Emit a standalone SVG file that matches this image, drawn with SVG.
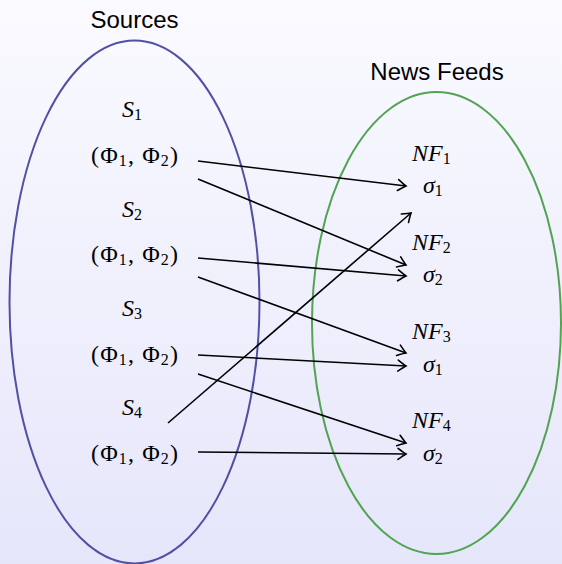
<svg xmlns="http://www.w3.org/2000/svg" width="562" height="564" viewBox="0 0 562 564">
<defs>
<linearGradient id="bg" x1="0" y1="0" x2="0" y2="1">
<stop offset="0" stop-color="#fafaff"/>
<stop offset="1" stop-color="#e6e6fb"/>
</linearGradient>
<marker id="arr" markerUnits="userSpaceOnUse" markerWidth="20" markerHeight="20" viewBox="-10 -10 20 20" refX="0" refY="0" orient="auto">
<path d="M -8 -5.5 Q -2.5 -1.5 0 0 Q -2.5 1.5 -8 5.5" fill="none" stroke="#000" stroke-width="1.6" stroke-linecap="round"/>
</marker>
<style>
.lbl{font-family:'Liberation Sans',Arial,sans-serif;font-size:24px;fill:#000}
.m{font-family:'Liberation Serif','Times New Roman',serif;font-size:24px;fill:#000}
.it{font-style:italic}
.sub{font-size:16px;font-style:normal}
.conn line{stroke:#000;stroke-width:1.6;fill:none;marker-end:url(#arr)}
</style>
</defs>
<rect width="562" height="564" fill="url(#bg)"/>
<g id="sources">
<ellipse cx="134.5" cy="302" rx="125" ry="261.5" fill="none" stroke="#5050a6" stroke-width="2"/>
<text class="lbl" x="134.5" y="28" text-anchor="middle">Sources</text>
</g>
<g id="newsfeeds">
<ellipse cx="436.5" cy="323" rx="124.5" ry="231" fill="none" stroke="#52a352" stroke-width="2"/>
<text class="lbl" x="437" y="80" text-anchor="middle">News Feeds</text>
</g>
<g id="s1">
<text class="m" x="122" y="117"><tspan class="it">S</tspan><tspan class="sub" dy="3">1</tspan></text>
<text class="m" x="91" y="163" textLength="87" lengthAdjust="spacing">(Φ<tspan class="sub" dy="3">1</tspan><tspan dy="-3">, Φ</tspan><tspan class="sub" dy="3">2</tspan><tspan dy="-3">)</tspan></text>
</g>
<g id="s2">
<text class="m" x="122" y="217"><tspan class="it">S</tspan><tspan class="sub" dy="3">2</tspan></text>
<text class="m" x="91" y="262" textLength="87" lengthAdjust="spacing">(Φ<tspan class="sub" dy="3">1</tspan><tspan dy="-3">, Φ</tspan><tspan class="sub" dy="3">2</tspan><tspan dy="-3">)</tspan></text>
</g>
<g id="s3">
<text class="m" x="122" y="316"><tspan class="it">S</tspan><tspan class="sub" dy="3">3</tspan></text>
<text class="m" x="91" y="362" textLength="87" lengthAdjust="spacing">(Φ<tspan class="sub" dy="3">1</tspan><tspan dy="-3">, Φ</tspan><tspan class="sub" dy="3">2</tspan><tspan dy="-3">)</tspan></text>
</g>
<g id="s4">
<text class="m" x="122" y="415"><tspan class="it">S</tspan><tspan class="sub" dy="3">4</tspan></text>
<text class="m" x="91" y="461" textLength="87" lengthAdjust="spacing">(Φ<tspan class="sub" dy="3">1</tspan><tspan dy="-3">, Φ</tspan><tspan class="sub" dy="3">2</tspan><tspan dy="-3">)</tspan></text>
</g>
<g id="nf1">
<text class="m" x="412" y="161"><tspan class="it">NF</tspan><tspan class="sub" dy="3">1</tspan></text>
<text class="m" x="423" y="193"><tspan class="it">σ</tspan><tspan class="sub" dy="3">1</tspan></text>
</g>
<g id="nf2">
<text class="m" x="412" y="250"><tspan class="it">NF</tspan><tspan class="sub" dy="3">2</tspan></text>
<text class="m" x="423" y="282"><tspan class="it">σ</tspan><tspan class="sub" dy="3">2</tspan></text>
</g>
<g id="nf3">
<text class="m" x="412" y="339"><tspan class="it">NF</tspan><tspan class="sub" dy="3">3</tspan></text>
<text class="m" x="423" y="372"><tspan class="it">σ</tspan><tspan class="sub" dy="3">1</tspan></text>
</g>
<g id="nf4">
<text class="m" x="412" y="428"><tspan class="it">NF</tspan><tspan class="sub" dy="3">4</tspan></text>
<text class="m" x="423" y="461"><tspan class="it">σ</tspan><tspan class="sub" dy="3">2</tspan></text>
</g>
<g id="connectors" class="conn">
<line x1="198" y1="161" x2="406" y2="186"/>
<line x1="198" y1="179" x2="406" y2="265"/>
<line x1="198" y1="258" x2="406" y2="276"/>
<line x1="198" y1="277" x2="406" y2="353"/>
<line x1="198" y1="355" x2="406" y2="366"/>
<line x1="198" y1="374" x2="406" y2="443"/>
<line x1="168" y1="423" x2="411" y2="213"/>
<line x1="198" y1="452" x2="406" y2="454"/>
</g>
</svg>
